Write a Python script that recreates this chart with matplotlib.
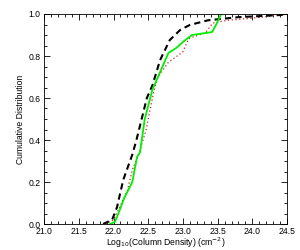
import numpy as np
import matplotlib
matplotlib.use('Agg')
from matplotlib import pyplot as plt
from matplotlib.ticker import MultipleLocator

plt.rcParams['font.family'] = ['Liberation Sans', 'DejaVu Sans']

# curva negra discontinua
x_negro = [21.85, 21.98, 22.05, 22.14, 22.27, 22.33, 22.48, 22.56, 22.67, 22.81,
           22.96, 23.10, 23.36, 23.80, 24.40, 24.50]
y_negro = [0.0, 0.02, 0.08, 0.21, 0.33, 0.40, 0.60, 0.66, 0.78, 0.876,
           0.924, 0.948, 0.970, 0.985, 0.995, 1.0]

# curva verde
x_verde = [21.95, 22.02, 22.07, 22.15, 22.27, 22.34, 22.38, 22.45, 22.56, 22.64,
           22.79, 22.91, 23.00, 23.13, 23.42, 23.49, 23.55]
y_verde = [0.0, 0.01, 0.05, 0.12, 0.20, 0.32, 0.34, 0.50, 0.64, 0.70,
           0.814, 0.84, 0.867, 0.90, 0.914, 0.957, 1.0]

# curva roja punteada
x_rojo = [21.88, 22.00, 22.07, 22.20, 22.27, 22.38, 22.47, 22.53, 22.58, 22.64,
          22.79, 23.00, 23.06, 23.10, 23.32, 23.43, 23.64, 24.00, 24.50]
y_rojo = [0.0, 0.02, 0.067, 0.16, 0.257, 0.35, 0.45, 0.55, 0.63, 0.70,
          0.77, 0.82, 0.867, 0.886, 0.91, 0.957, 0.97, 0.98, 1.0]

fig = plt.figure(figsize=(3.0, 2.5), dpi=100)
ax = fig.add_axes([0.147, 0.104, 0.81, 0.84])

ax.plot(x_rojo, y_rojo, color='#cc2222', linestyle=(0, (1, 2)), linewidth=0.9)
ax.plot(x_negro, y_negro, color='black', linestyle=(0, (3, 2)), linewidth=1.5)
ax.plot(x_verde, y_verde, color='#00ee00', linestyle='-', linewidth=1.3)

ax.set_xlim(21.0, 24.5)
ax.set_ylim(0.0, 1.0)
ax.xaxis.set_major_locator(MultipleLocator(0.5))
ax.xaxis.set_minor_locator(MultipleLocator(0.1))
ax.yaxis.set_major_locator(MultipleLocator(0.2))
ax.yaxis.set_minor_locator(MultipleLocator(0.05))
ax.xaxis.set_major_formatter(plt.FormatStrFormatter('%.1f'))
ax.yaxis.set_major_formatter(plt.FormatStrFormatter('%.1f'))
ax.tick_params(which='both', direction='in', top=True, right=True,
               labelsize=6.2, width=0.6)
ax.tick_params(which='major', length=4, pad=2.5)
ax.tick_params(which='minor', length=2)
for s in ax.spines.values():
    s.set_linewidth(0.6)

ax.set_xlabel(r'Log$_{10}$(Column Density) (cm$^{-2}$)', fontsize=6.2, va='center')
ax.set_ylabel('Cumulative Distribution', fontsize=6.2, va='center')
ax.xaxis.set_label_coords(0.5, -0.09)
ax.yaxis.set_label_coords(-0.099, 0.5)

fig.savefig('out.png', dpi=100)
